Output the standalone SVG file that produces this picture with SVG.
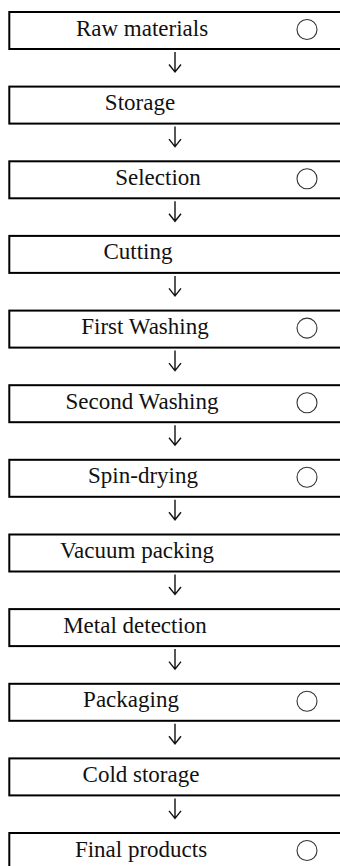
<svg xmlns="http://www.w3.org/2000/svg" width="340" height="866" viewBox="0 0 340 866">
<style>
.box{fill:#fff;stroke:#000;stroke-width:2}
.t{font-family:"Liberation Serif","Times New Roman",serif;font-size:23px;fill:#111}
.c{fill:none;stroke:#333;stroke-width:1.1}
.a{fill:none;stroke:#111;stroke-width:1.4;stroke-linejoin:miter}
</style>
<rect width="340" height="866" fill="#fff"/>
<g id="connectors">
<path class="a" d="M175 52V71.5M169 64.5L175 72L181 64.5"/>
<path class="a" d="M175 126.6V146.1M169 139.1L175 146.6L181 139.1"/>
<path class="a" d="M175 201.3V220.8M169 213.8L175 221.3L181 213.8"/>
<path class="a" d="M175 275.9V295.4M169 288.4L175 295.9L181 288.4"/>
<path class="a" d="M175 350.6V370.1M169 363.1L175 370.6L181 363.1"/>
<path class="a" d="M175 425.2V444.7M169 437.7L175 445.2L181 437.7"/>
<path class="a" d="M175 499.8V519.3M169 512.3L175 519.8L181 512.3"/>
<path class="a" d="M175 574.5V594M169 587L175 594.5L181 587"/>
<path class="a" d="M175 649.1V668.6M169 661.6L175 669.1L181 661.6"/>
<path class="a" d="M175 723.8V743.3M169 736.3L175 743.8L181 736.3"/>
<path class="a" d="M175 798.4V817.9M169 810.9L175 818.4L181 810.9"/>
</g>
<g id="n1"><rect class="box" x="9.3" y="12" width="340" height="37"/><text class="t" x="142" y="35.5" text-anchor="middle">Raw materials</text><circle class="c" cx="307" cy="29.5" r="10"/></g>
<g id="n2"><rect class="box" x="9.3" y="86.6" width="340" height="37"/><text class="t" x="140" y="110.1" text-anchor="middle">Storage</text></g>
<g id="n3"><rect class="box" x="9.3" y="161.3" width="340" height="37"/><text class="t" x="158" y="184.8" text-anchor="middle">Selection</text><circle class="c" cx="307" cy="178.8" r="10"/></g>
<g id="n4"><rect class="box" x="9.3" y="235.9" width="340" height="37"/><text class="t" x="138" y="259.4" text-anchor="middle">Cutting</text></g>
<g id="n5"><rect class="box" x="9.3" y="310.6" width="340" height="37"/><text class="t" x="145" y="334.1" text-anchor="middle">First Washing</text><circle class="c" cx="307" cy="328.1" r="10"/></g>
<g id="n6"><rect class="box" x="9.3" y="385.2" width="340" height="37"/><text class="t" x="142" y="408.7" text-anchor="middle">Second Washing</text><circle class="c" cx="307" cy="402.7" r="10"/></g>
<g id="n7"><rect class="box" x="9.3" y="459.8" width="340" height="37"/><text class="t" x="143" y="483.3" text-anchor="middle">Spin-drying</text><circle class="c" cx="307" cy="477.3" r="10"/></g>
<g id="n8"><rect class="box" x="9.3" y="534.5" width="340" height="37"/><text class="t" x="137" y="558" text-anchor="middle">Vacuum packing</text></g>
<g id="n9"><rect class="box" x="9.3" y="609.1" width="340" height="37"/><text class="t" x="135" y="632.6" text-anchor="middle">Metal detection</text></g>
<g id="n10"><rect class="box" x="9.3" y="683.8" width="340" height="37"/><text class="t" x="131" y="707.3" text-anchor="middle">Packaging</text><circle class="c" cx="307" cy="701.3" r="10"/></g>
<g id="n11"><rect class="box" x="9.3" y="758.4" width="340" height="37"/><text class="t" x="141" y="781.9" text-anchor="middle">Cold storage</text></g>
<g id="n12"><rect class="box" x="9.3" y="833" width="340" height="37"/><text class="t" x="141" y="856.5" text-anchor="middle">Final products</text><circle class="c" cx="307" cy="850.5" r="10"/></g>
</svg>
